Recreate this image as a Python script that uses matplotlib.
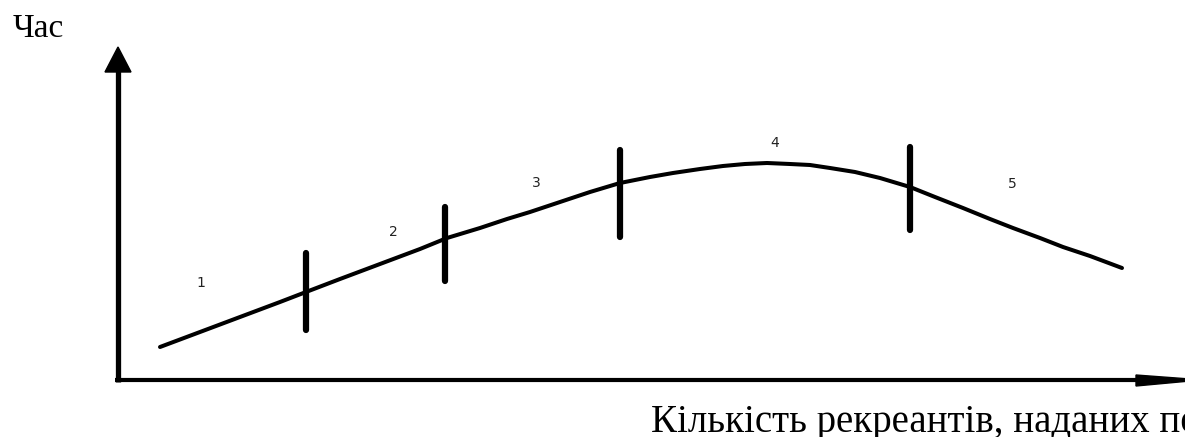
import matplotlib
matplotlib.use("Agg")
import matplotlib.pyplot as plt
from matplotlib.patches import Polygon

# Curve (figure pixel coordinates, y downwards)
curve_x = [160, 200, 240, 280, 306, 340, 380, 420, 447, 480, 507, 530, 560,
           590, 620, 650, 673, 700, 723, 745, 767, 790, 810, 830, 855, 880,
           910, 935, 963, 990, 1013, 1040, 1063, 1090, 1122]
curve_y = [347, 332, 317, 302, 292, 279, 264, 249, 238, 228, 219, 212, 202,
           192, 183, 177, 173, 169, 166, 164, 163, 164, 165, 168, 172, 178,
           187, 197, 208, 219, 228, 238, 247, 256, 268]

# Zone boundary markers: x, top, bottom
marker_x = [306, 445, 620, 910]
marker_top = [253, 207, 150, 147]
marker_bot = [330, 281, 237, 230]

# Zone labels
zone_labels = ["1", "2", "3", "4", "5"]
zone_x = [201, 393, 536, 775, 1012]
zone_y = [283, 232, 183, 143, 184]

y_label = "Час"
x_label = "Кількість рекреантів, наданих по"

W, H = 1185, 437
fig = plt.figure(figsize=(W / 100, H / 100), dpi=100)
ax = fig.add_axes([0, 0, 1, 1])
ax.set_xlim(0, W)
ax.set_ylim(H, 0)
ax.axis("off")

# axes lines
ax.plot([118, 118], [382, 68], color="black", lw=3.8, solid_capstyle="butt")
ax.plot([115, 1140], [380, 380], color="black", lw=3.0, solid_capstyle="butt")
ax.add_patch(Polygon([[118, 47], [105, 72], [131, 72]], closed=True, color="black"))
ax.add_patch(Polygon([[1136, 375], [1136, 386], [1190, 381], [1190, 379]],
                     closed=True, color="black"))

# curve
ax.plot(curve_x, curve_y, color="black", lw=2.9, solid_capstyle="round",
        solid_joinstyle="round")

# markers
for mx, t, b in zip(marker_x, marker_top, marker_bot):
    ax.plot([mx, mx], [t, b], color="black", lw=4.5, solid_capstyle="round")

for lab, lx, ly in zip(zone_labels, zone_x, zone_y):
    ax.text(lx, ly, lab, fontsize=10, family="DejaVu Sans", color="#222222",
            ha="center", va="center")

ax.text(13, 37, y_label, fontsize=24, family="Liberation Serif",
        ha="left", va="baseline")
ax.text(651, 432, x_label, fontsize=28, family="Liberation Serif",
        ha="left", va="baseline", clip_on=True)

fig.savefig("out.png", dpi=100)
